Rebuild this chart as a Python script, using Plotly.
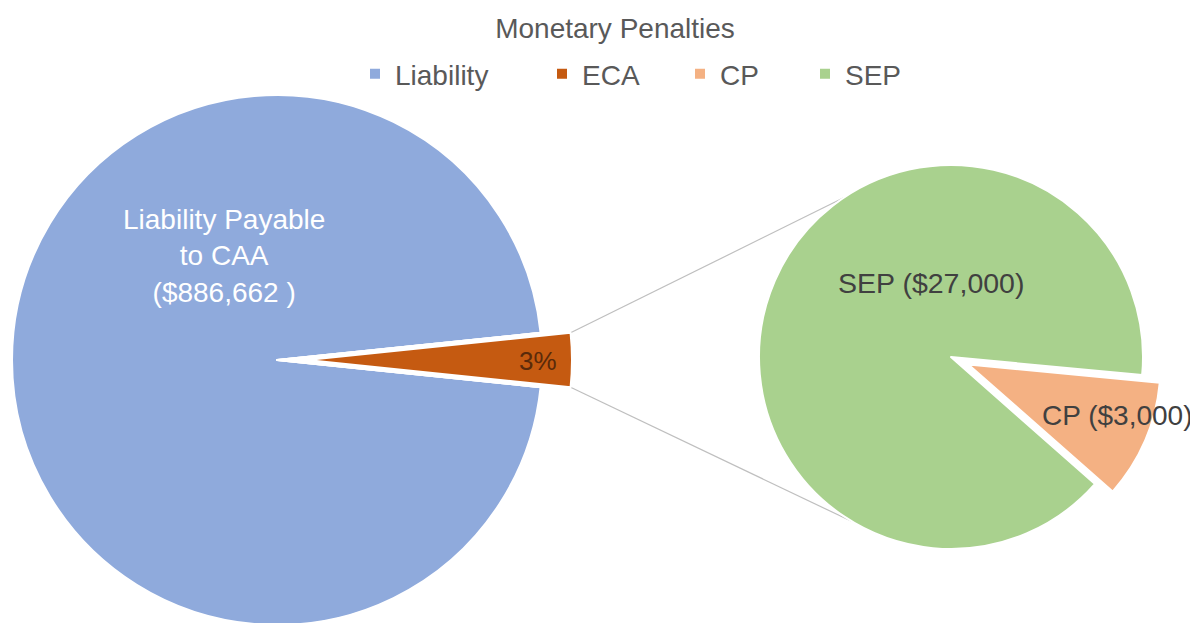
import math
import plotly.graph_objects as go

# ---- data -------------------------------------------------------------
main_labels = ["Liability", "ECA"]
main_values = [886662, 30000]          # ECA = CP + SEP
sub_labels = ["CP", "SEP"]
sub_values = [3000, 27000]

COLORS = {
    "Liability": "#8FAADC",
    "ECA": "#C55A11",
    "CP": "#F4B183",
    "SEP": "#A9D18E",
}
FONT = "Liberation Sans, Arial, sans-serif"
W, H = 1198, 623
OFF = 8          # the page body margin shifts the figure by this much

# ---- geometry (screen pixels) -----------------------------------------
left_cx, left_cy, left_r = 277, 360, 265
eca_shift = 30                       # how far the ECA wedge is pulled out
right_cx, right_cy, right_r = 951, 357, 192
cp_pull = 0.1


def px_domain(cx, cy, half):
    cx, cy = cx - OFF, cy - OFF
    return dict(
        x=[max(0, (cx - half) / W), min(1, (cx + half) / W)],
        y=[max(0, 1 - (cy + half) / H), min(1, 1 - (cy - half) / H)],
    )


def paper(x, y):
    return (x - OFF) / W, 1 - (y - OFF) / H


eca_frac = main_values[1] / sum(main_values)
left_rot = 90 + 180 * eca_frac       # centres the ECA slice on 3 o'clock
cp_frac = sub_values[0] / sum(sub_values)
right_rot = 113.4 - 180 * cp_frac    # CP centred a bit below 3 o'clock

fig = go.Figure()

# full left pie (gives the legend entries)
fig.add_trace(go.Pie(
    labels=main_labels, values=main_values, sort=False, direction="clockwise",
    rotation=left_rot, domain=px_domain(left_cx, left_cy, left_r),
    marker=dict(colors=[COLORS[l] for l in main_labels],
                line=dict(color="white", width=2)),
    textinfo="none", hoverinfo="label+value", legend="legend",
))
# blank out the ECA slot so it shows as a gap
fig.add_trace(go.Pie(
    labels=main_labels, values=main_values, sort=False, direction="clockwise",
    rotation=left_rot, domain=px_domain(left_cx, left_cy, left_r),
    marker=dict(colors=["rgba(0,0,0,0)", "white"],
                line=dict(color="white", width=[0, 2])),
    textinfo="none", hoverinfo="skip", showlegend=False,
))
# pulled-out ECA wedge
fig.add_trace(go.Pie(
    labels=main_labels, values=main_values, sort=False, direction="clockwise",
    rotation=left_rot, domain=px_domain(left_cx + eca_shift, left_cy, left_r),
    marker=dict(colors=["rgba(0,0,0,0)", COLORS["ECA"]],
                line=dict(color="white", width=[0, 2])),
    textinfo="none", hoverinfo="skip", showlegend=False,
))
# breakdown pie
fig.add_trace(go.Pie(
    labels=sub_labels, values=sub_values, sort=False, direction="clockwise",
    rotation=right_rot, pull=[cp_pull, 0],
    domain=px_domain(right_cx, right_cy, right_r * (1 + cp_pull)),
    marker=dict(colors=[COLORS[l] for l in sub_labels],
                line=dict(color="white", width=2)),
    textinfo="none", hoverinfo="label+value", legend="legend2",
))

# connector lines from the ECA wedge to the breakdown pie
half = math.radians(180 * eca_frac)
ex = left_cx + eca_shift + left_r * math.cos(half)
for sgn, ang in [(-1, -34), (1, 211)]:
    ey = left_cy + sgn * left_r * math.sin(half)
    a = math.radians(ang)
    tx = right_cx + right_r * math.sin(a)
    ty = right_cy - right_r * math.cos(a)
    x0, y0 = paper(ex, ey)
    x1, y1 = paper(tx, ty)
    fig.add_shape(type="line", xref="paper", yref="paper",
                  x0=x0, y0=y0, x1=x1, y1=y1,
                  line=dict(color="#BFBFBF", width=1.2), layer="below")

# slice labels
labels_txt = [
    (f"Liability Payable<br>to CAA<br>(${main_values[0]:,} )", 224, 256, "white", 28),
    (f"{round(eca_frac * 100)}%", 538, 361, "#5A2A0A", 26),
    (f"SEP (${sub_values[1]:,})", 931, 283, "#404040", 28.5),
    (f"CP (${sub_values[0]:,})", 1117, 415, "#404040", 28),
]
for txt, x, y, col, size in labels_txt:
    ax, ay = paper(x, y)
    fig.add_annotation(text=txt, x=ax, y=ay, xref="paper", yref="paper",
                       showarrow=False, xanchor="center", yanchor="middle",
                       font=dict(family=FONT, size=size, color=col))

tx, ty = paper(615, 28)
l1x, ly = paper(374 - 19, 74)
l2x, _ = paper(699 - 19, 74)
legend_style = dict(orientation="h", y=ly, xanchor="left", yanchor="middle",
                    font=dict(size=28, color="#595959"),
                    entrywidthmode="pixels", bgcolor="rgba(0,0,0,0)")
fig.update_layout(
    width=W, height=H,
    margin=dict(l=0, r=0, t=0, b=0),
    paper_bgcolor="white",
    font=dict(family=FONT, color="#595959"),
    title=dict(text="Monetary Penalties", x=tx, y=ty, xanchor="center",
               yanchor="middle", font=dict(size=28, color="#595959")),
    legend=dict(x=l1x, entrywidth=142, **legend_style),
    legend2=dict(x=l2x, entrywidth=80, **legend_style),
)

fig.write_html("out.html")
